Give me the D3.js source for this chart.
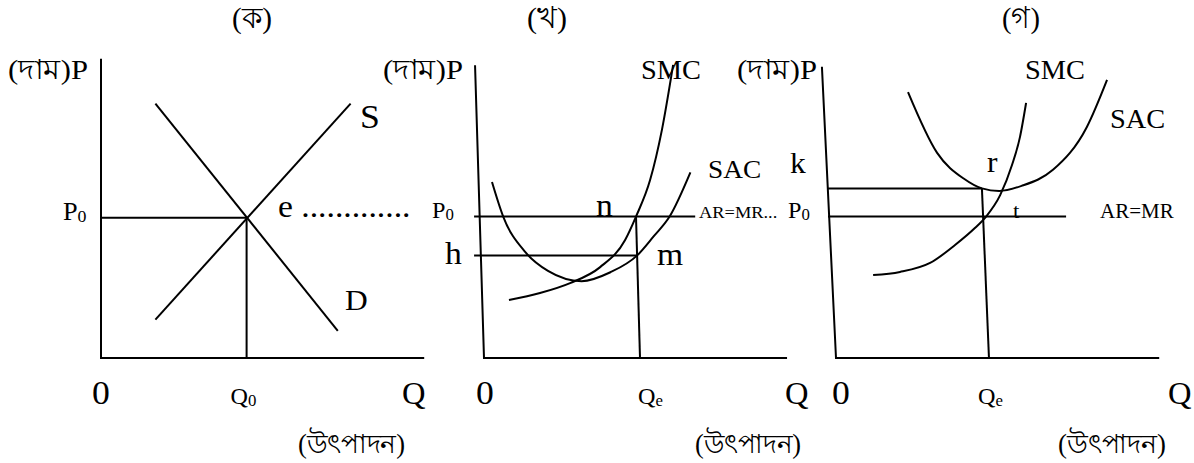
<!DOCTYPE html>
<html>
<head>
<meta charset="utf-8">
<script src="https://cdn.jsdelivr.net/npm/d3@7"></script>
<style>
  html, body { margin: 0; padding: 0; background: #fff; }
  svg text { font-family: "Liberation Serif", "Times New Roman", serif; fill: #000; }
</style>
</head>
<body>
<svg id="chart" width="1194" height="463"></svg>
<script>
// ---- (ক) market demand & supply, values in price/quantity units ----
const supplyA = [[1.7, 1.2], [7.8, 7.95]];
const demandA = [[1.7, 7.95], [7.4, 0.85]];
const eqA = { q: 4.55, p: 4.38 };
const axisA = { qMax: 10.1, pMax: 9.35 };

// ---- (খ) firm earning super-normal profit ----
const sacB = [[0.25, 5.5], [0.6, 4.42], [1.3, 3.3], [2.0, 2.72], [3.05, 2.4],
              [3.95, 2.68], [4.78, 3.2], [5.3, 3.8], [5.8, 4.42], [6.45, 5.8]];
const smcB = [[0.78, 1.81], [1.75, 2.03], [2.69, 2.34], [3.63, 2.84], [4.41, 3.69],
              [4.75, 4.42], [5.19, 5.56], [5.56, 7.13], [5.91, 9.16]];
const priceB = 4.42;   // AR = MR
const costB = 3.2;     // average cost at Qe (h–m)
const qeB = { top: 4.75, bottom: 4.875 };
const axisB = { qMax: 9.47, top: [-0.28, 9.15], lineLeft: -0.31, priceRight: 6.6 };

// ---- (গ) firm earning a loss ----
const sacC = [[2.25, 8.31], [3.16, 6.41], [4.0, 5.6], [4.56, 5.3], [5.1, 5.22],
              [5.8, 5.38], [6.78, 5.88], [7.84, 7.22], [8.47, 8.69]];
const smcC = [[1.16, 2.59], [2.0, 2.69], [2.94, 2.97], [3.72, 3.53], [4.34, 4.06],
              [4.69, 4.42], [5.13, 5.09], [5.5, 6.03], [5.75, 6.91], [5.94, 7.97]];
const priceC = 4.42;   // AR = MR
const costC = 5.3;     // average cost at Qe (k–r)
const qeC = { top: 4.56, bottom: 4.78 };
const axisC = { qMax: 10.1, top: [-0.44, 9.1], lineLeft: -0.25, priceRight: 7.19 };

const titles = ["(ক)", "(খ)", "(গ)"];
const priceLabel = "(দাম)P";
const outputLabel = "(উৎপাদন)";

// ---- layout ----
const svg = d3.select("#chart");
const SX = 1.05; // slight horizontal widening of the lettering
const unit = 32;
function panelScales(x0) {
  return {
    x: d3.scaleLinear().domain([0, 10]).range([x0, x0 + 10 * unit]),
    y: d3.scaleLinear().domain([0, 10]).range([358, 358 - 10 * unit])
  };
}
const A = panelScales(101), B = panelScales(484), C = panelScales(836);

const g = svg.append("g").attr("fill", "none").attr("stroke", "#000")
  .attr("stroke-width", 2).attr("stroke-linecap", "butt");

function seg(s, pts) {
  g.append("path").attr("d", d3.line().x(d => s.x(d[0])).y(d => s.y(d[1]))(pts));
}
function curve(s, pts) {
  g.append("path").attr("d",
    d3.line().x(d => s.x(d[0])).y(d => s.y(d[1])).curve(d3.curveMonotoneX)(pts));
}

function label(x, y, txt, size, opts = {}) {
  const t = svg.append("text")
    .attr("transform", `translate(${x},${y}) scale(${SX},1)`)
    .attr("font-size", size)
    .attr("text-anchor", opts.anchor || "start");
  t.text(txt);
  if (opts.sub) {
    t.append("tspan").attr("font-size", opts.subSize || size * 0.62)
      .attr("dy", opts.subDy || 3).text(opts.sub);
  }
  return t;
}
// Bengali lettering, fitted to a set width
function fitted(x, y, txt, size, width) {
  return svg.append("text")
    .attr("x", x).attr("y", y)
    .attr("font-size", size)
    .attr("textLength", width)
    .attr("lengthAdjust", "spacingAndGlyphs")
    .text(txt);
}

// Panel (ক)
seg(A, [[0, axisA.pMax], [0, 0], [axisA.qMax, 0]]);
seg(A, [[0, eqA.p], [eqA.q, eqA.p], [eqA.q, 0]]);
seg(A, supplyA);
seg(A, demandA);

// Panel (খ)
seg(B, [axisB.top, [0, 0], [axisB.qMax, 0]]);
seg(B, [[axisB.lineLeft, priceB], [axisB.priceRight, priceB]]);
seg(B, [[axisB.lineLeft, costB], [qeB.top, costB]]);
seg(B, [[qeB.top, priceB], [qeB.bottom, 0]]);
curve(B, sacB);
curve(B, smcB);

// Panel (গ)
seg(C, [axisC.top, [0, 0], [axisC.qMax, 0]]);
seg(C, [[axisC.lineLeft, priceC], [axisC.priceRight, priceC]]);
seg(C, [[axisC.lineLeft, costC], [qeC.top, costC]]);
seg(C, [[qeC.top, costC], [qeC.bottom, 0]]);
curve(C, sacC);
curve(C, smcC);

// ---- lettering ----
// titles
fitted(232, 28, titles[0], 30, 40);
fitted(527, 28, titles[1], 30, 40);
fitted(1002, 28, titles[2], 30, 38);

// price axis names
fitted(8, 79, priceLabel, 28, 80);
fitted(383, 79, priceLabel, 28, 80);
fitted(737, 79, priceLabel, 28, 80);

// output axis names
fitted(298, 453, outputLabel, 27, 107);
fitted(695, 453, outputLabel, 27, 106);
fitted(1058, 453, outputLabel, 27, 108);

// origin / Q ticks
label(A.x(0) - 9, 404, "0", 34);
label(B.x(0) - 8, 404, "0", 34);
label(C.x(0) - 4, 404, "0", 34);
label(402, 404, "Q", 31);
label(785, 404, "Q", 31);
label(1168, 404, "Q", 31);
label(A.x(eqA.q) - 16, 404, "Q", 23, { sub: "0", subSize: 16, subDy: 2 });
label(B.x(qeB.bottom) - 2, 404, "Q", 23, { sub: "e", subSize: 16, subDy: 2 });
label(C.x(qeC.bottom) - 11, 404, "Q", 23, { sub: "e", subSize: 16, subDy: 2 });

// panel (ক) marks
label(63, A.y(eqA.p) + 2, "P", 25, { sub: "0", subSize: 17, subDy: 2 });
label(360, 128, "S", 34);
label(345, 310, "D", 30);
label(278, 217, "e .............", 32);

// panel (খ) marks
label(432, B.y(priceB) + 1, "P", 23, { sub: "0", subSize: 16, subDy: 2 });
label(641, 79, "SMC", 27);
label(708, 178, "SAC", 26);
label(596, 216, "n", 32);
label(445, 264, "h", 32);
label(657, 265, "m", 32);
label(699, 218, "AR=MR...", 17.5);

// panel (গ) marks
label(788, C.y(priceC) + 1, "P", 23, { sub: "0", subSize: 16, subDy: 2 });
label(790, 173, "k", 30);
label(1025, 79, "SMC", 27);
label(1110, 128, "SAC", 27);
label(987, 172, "r", 30);
label(1013, 218, "t", 22);
label(1100, 218, "AR=MR", 20);
</script>
</body>
</html>
